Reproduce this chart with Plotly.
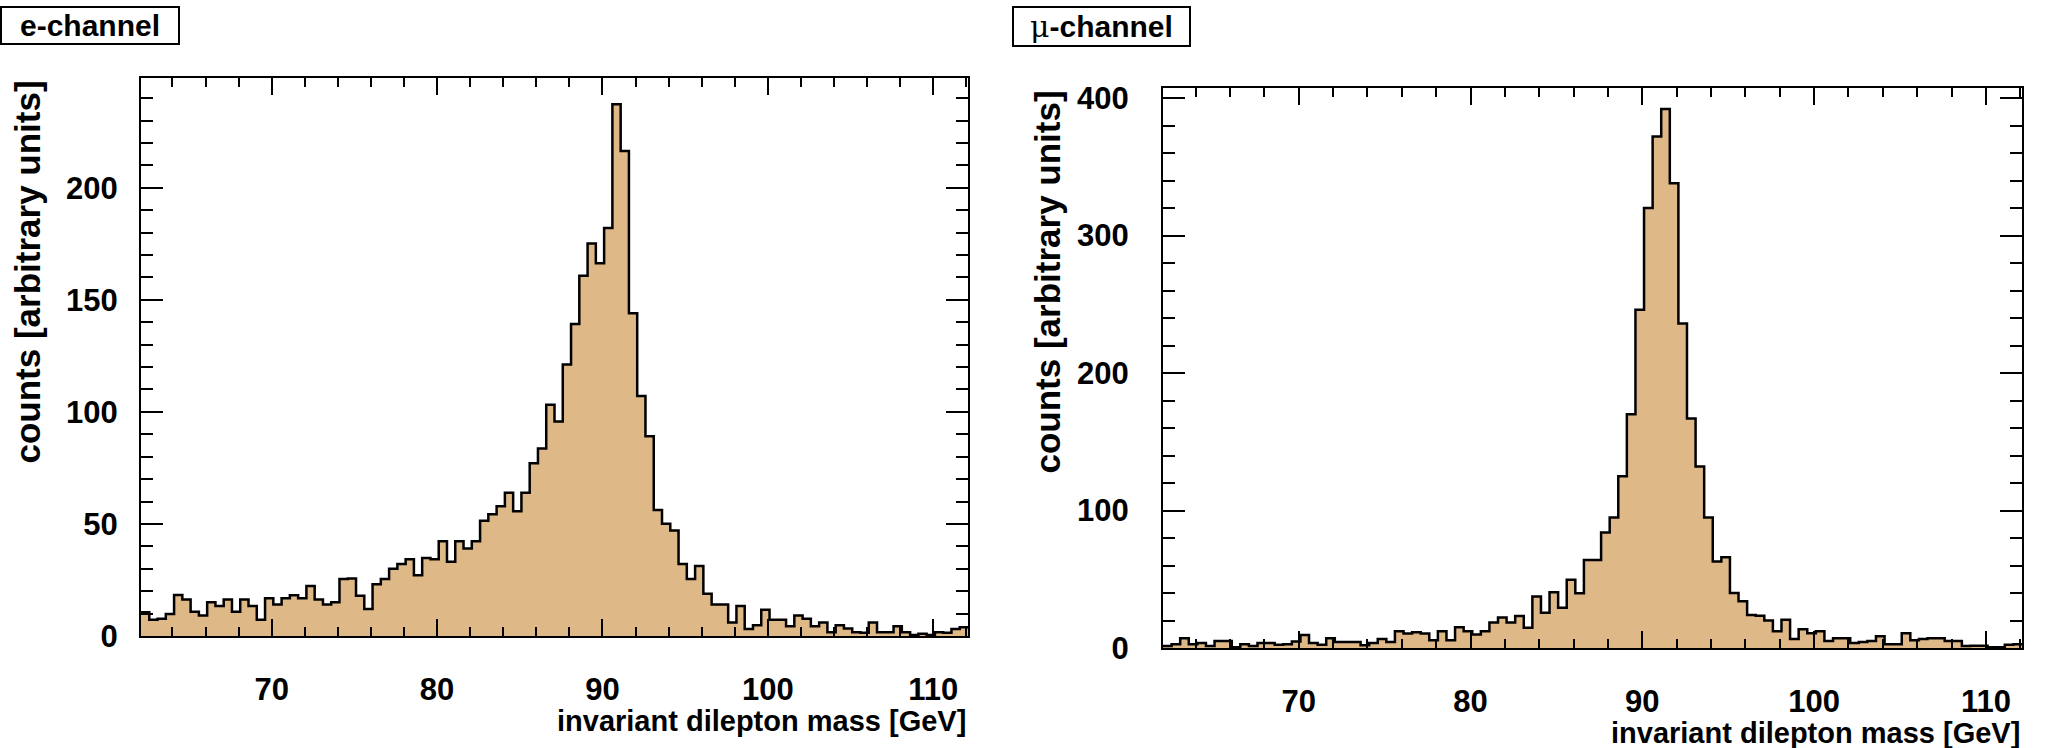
import numpy as np
import plotly.graph_objects as go

# ---- data -------------------------------------------------------------
bin_low = 62.1
bin_width = 0.5
n_bins = 100
bin_edges = [round(bin_low + bin_width * i, 2) for i in range(n_bins + 1)]

e_counts = [10.6, 7.2, 7.7, 9.8, 18.3, 16.3, 10.8, 9.1, 15.1, 13.4,
            16.3, 10.8, 16.3, 13.4, 7.2, 16.8, 14.1, 16.8, 18.2, 16.8,
            22.3, 16.3, 14.1, 15.1, 25.4, 25.7, 18.0, 12.0, 23.1, 25.4,
            30.0, 32.1, 34.3, 27.1, 34.8, 34.3, 42.3, 33.1, 42.3, 39.1,
            42.3, 51.4, 54.3, 57.9, 63.9, 55.7, 63.9, 77.1, 83.7, 103.2,
            95.7, 121.2, 139.2, 160.8, 175.2, 166.3, 182.1, 237.3, 216.4, 144.0,
            107.1, 89.1, 56.2, 50.1, 47.1, 32.1, 25.4, 31.2, 18.9, 14.1,
            14.1, 6.0, 13.4, 3.1, 4.8, 11.7, 7.2, 7.2, 4.3, 9.1,
            7.7, 4.3, 6.0, 1.7, 4.8, 3.4, 1.7, 1.4, 6.0, 1.7,
            1.7, 4.3, 1.7, 0.5, 1.0, 0.5, 1.7, 1.4, 3.1, 3.9]

mu_counts = [1.4, 2.8, 7.1, 2.8, 3.7, 1.4, 5.1, 5.1, 0.5, 2.8,
             1.4, 3.7, 3.7, 2.3, 2.8, 4.8, 9.4, 3.7, 2.3, 7.1,
             4.3, 4.3, 4.3, 2.0, 3.7, 6.5, 4.3, 12.2, 10.5, 11.4,
             10.5, 5.7, 12.2, 5.7, 15.1, 12.2, 9.9, 12.2, 18.5, 22.2,
             18.5, 23.3, 14.8, 37.5, 25.6, 40.6, 29.3, 49.7, 39.8, 64.0,
             64.0, 84.0, 95.0, 125.0, 170.0, 246.0, 320.0, 372.0, 392.0, 338.0,
             236.0, 167.0, 132.0, 95.0, 63.0, 66.0, 40.0, 34.0, 24.0, 23.5,
             20.0, 12.2, 20.5, 6.5, 13.6, 10.8, 12.2, 5.1, 7.1, 7.1,
             3.7, 4.3, 5.1, 8.5, 2.8, 2.8, 10.8, 5.7, 6.5, 7.1,
             7.1, 5.1, 5.1, 1.4, 1.7, 1.7, 0.6, 0.6, 2.3, 2.8]

x_tick_vals = [70, 80, 90, 100, 110]
e_y_tick_vals = [0, 50, 100, 150, 200]
mu_y_tick_vals = [0, 100, 200, 300, 400]
x_range = [62.1, 112.1]
e_y_range = [0, 249]
mu_y_range = [0, 407.3]

x_title = "invariant dilepton mass [GeV]"
y_title = "counts [arbitrary units]"

# ---- style ------------------------------------------------------------
W, H = 2045, 748
FILL = "#DEB887"
FONT = "Liberation Sans, Arial, Helvetica, sans-serif"
FS_TICK = 31
FS_XT = 29
FS_YT = 35
FS_BOX = 30


def px_x(p):
    return p / W


def px_y(p):
    return 1 - p / H


fig = go.Figure()

for counts, xa, ya in [(e_counts, "x", "y"), (mu_counts, "x2", "y2")]:
    fig.add_trace(go.Scatter(
        x=bin_edges, y=list(counts) + [counts[-1]],
        mode="lines", line=dict(shape="hv", color="black", width=2.5),
        fill="tozeroy", fillcolor=FILL,
        xaxis=xa, yaxis=ya, showlegend=False, hoverinfo="skip"))


def xaxis(domain, anchor):
    return dict(domain=domain, anchor=anchor, range=x_range, automargin=False,
                tickmode="array", tickvals=x_tick_vals,
                ticks="inside", ticklen=17, tickwidth=2, tickcolor="black",
                minor=dict(dtick=2, tick0=0, ticks="inside", ticklen=9,
                           tickwidth=2, tickcolor="black"),
                showline=True, linewidth=2, linecolor="black", mirror="allticks",
                showgrid=False, zeroline=False,
                tickfont=dict(family=FONT, size=FS_TICK, color="black", weight="bold"),
                ticklabelstandoff=25)


def yaxis(domain, anchor, rng, vals, minor_dtick, standoff):
    return dict(domain=domain, anchor=anchor, range=rng, automargin=False,
                tickmode="array", tickvals=vals,
                ticks="inside", ticklen=22, tickwidth=2, tickcolor="black",
                minor=dict(dtick=minor_dtick, tick0=0, ticks="inside", ticklen=12,
                           tickwidth=2, tickcolor="black"),
                showline=True, linewidth=2, linecolor="black", mirror="allticks",
                showgrid=False, zeroline=False,
                tickfont=dict(family=FONT, size=FS_TICK, color="black", weight="bold"),
                ticklabelstandoff=standoff)


L = dict(x0=141, x1=968, y0=78, y1=636)
R = dict(x0=1163, x1=2022, y0=88, y1=648)

fig.update_layout(
    width=W, height=H,
    margin=dict(l=0, r=0, t=0, b=0, autoexpand=False),
    paper_bgcolor="white", plot_bgcolor="white",
    xaxis=xaxis([px_x(L["x0"]), px_x(L["x1"])], "y"),
    yaxis=yaxis([px_y(L["y1"]), px_y(L["y0"])], "x", e_y_range, e_y_tick_vals, 10, 15),
    xaxis2=xaxis([px_x(R["x0"]), px_x(R["x1"])], "y2"),
    yaxis2=yaxis([px_y(R["y1"]), px_y(R["y0"])], "x2", mu_y_range, mu_y_tick_vals, 20, 26),
)

annots = []
# x titles
annots.append(dict(text=x_title, xref="paper", yref="paper",
                   x=px_x(L["x1"]), y=px_y(721), xanchor="right", yanchor="middle",
                   showarrow=False, font=dict(family=FONT, size=FS_XT, color="black", weight="bold")))
annots.append(dict(text=x_title, xref="paper", yref="paper",
                   x=px_x(R["x1"]), y=px_y(733), xanchor="right", yanchor="middle",
                   showarrow=False, font=dict(family=FONT, size=FS_XT, color="black", weight="bold")))
# y titles
annots.append(dict(text=y_title, xref="paper", yref="paper", textangle=-90,
                   x=px_x(27), y=px_y(L["y0"] + 1), xanchor="center", yanchor="top",
                   showarrow=False, font=dict(family=FONT, size=FS_YT, color="black", weight="bold")))
annots.append(dict(text=y_title, xref="paper", yref="paper", textangle=-90,
                   x=px_x(1047), y=px_y(R["y0"] + 1), xanchor="center", yanchor="top",
                   showarrow=False, font=dict(family=FONT, size=FS_YT, color="black", weight="bold")))

# channel labels
boxes = [("e-channel", 1, 179, 7, 44),
         ("<span style=\"font-family:'DejaVu Serif';font-weight:normal\">\u03bc</span>-channel", 1013, 1190, 7, 46)]
shapes = []
for txt, bx0, bx1, by0, by1 in boxes:
    shapes.append(dict(type="rect", xref="paper", yref="paper",
                       x0=px_x(bx0), x1=px_x(bx1), y0=px_y(by1), y1=px_y(by0),
                       line=dict(color="black", width=2), fillcolor="white"))
    annots.append(dict(text=txt, xref="paper", yref="paper",
                       x=px_x((bx0 + bx1) / 2), y=px_y((by0 + by1) / 2),
                       xanchor="center", yanchor="middle", showarrow=False,
                       font=dict(family=FONT, size=FS_BOX, color="black", weight="bold")))

fig.update_layout(annotations=annots, shapes=shapes)

fig.write_html("out.html",
               config={"displayModeBar": False, "staticPlot": True},
               post_script="document.body.style.margin='0';document.body.style.padding='0';"
                           "document.body.style.overflow='hidden';")
